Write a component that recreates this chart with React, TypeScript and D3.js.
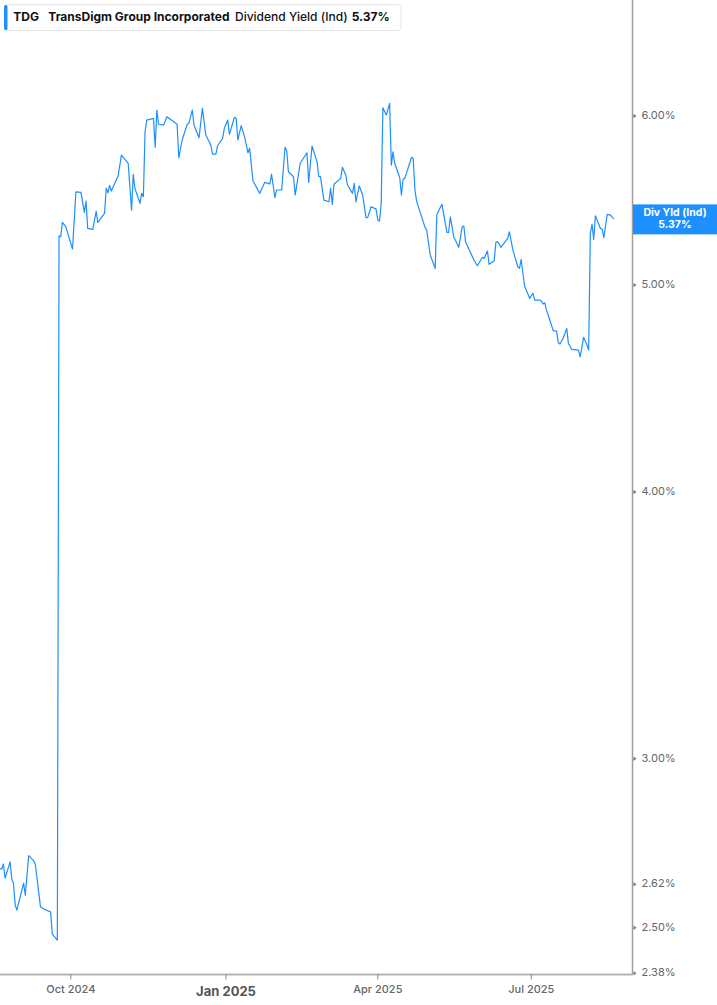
import * as d3 from 'd3';
import React from 'react';

// TDG dividend yield (indicated), one year of closes
const dates = [
  '2024-08-20', '2024-08-21', '2024-08-22', '2024-08-23', '2024-08-26', '2024-08-27', '2024-08-28',
  '2024-08-29', '2024-08-30', '2024-09-03', '2024-09-04', '2024-09-06', '2024-09-09', '2024-09-10',
  '2024-09-13', '2024-09-15', '2024-09-18', '2024-09-19', '2024-09-20', '2024-09-23', '2024-09-24',
  '2024-09-25', '2024-09-26', '2024-09-28', '2024-10-02', '2024-10-04', '2024-10-07', '2024-10-09',
  '2024-10-10', '2024-10-11', '2024-10-14', '2024-10-16', '2024-10-17', '2024-10-21', '2024-10-22',
  '2024-10-23', '2024-10-24', '2024-10-25', '2024-10-29', '2024-10-31', '2024-11-04', '2024-11-06',
  '2024-11-07', '2024-11-08', '2024-11-11', '2024-11-12', '2024-11-13', '2024-11-14', '2024-11-15',
  '2024-11-19', '2024-11-20', '2024-11-21', '2024-11-22', '2024-11-25', '2024-11-27', '2024-12-03',
  '2024-12-04', '2024-12-06', '2024-12-09', '2024-12-10', '2024-12-12', '2024-12-13', '2024-12-16',
  '2024-12-18', '2024-12-20', '2024-12-23', '2024-12-24', '2024-12-26', '2024-12-27', '2024-12-30',
  '2024-12-31', '2025-01-02', '2025-01-03', '2025-01-06', '2025-01-07', '2025-01-08', '2025-01-10',
  '2025-01-12', '2025-01-14', '2025-01-15', '2025-01-17', '2025-01-21', '2025-01-24', '2025-01-27',
  '2025-01-28', '2025-01-30', '2025-01-31', '2025-02-03', '2025-02-05', '2025-02-06', '2025-02-07',
  '2025-02-10', '2025-02-11', '2025-02-14', '2025-02-18', '2025-02-19', '2025-02-21', '2025-02-24',
  '2025-02-25', '2025-02-26', '2025-02-28', '2025-03-03', '2025-03-04', '2025-03-05', '2025-03-06',
  '2025-03-10', '2025-03-11', '2025-03-13', '2025-03-14', '2025-03-17', '2025-03-18', '2025-03-19',
  '2025-03-21', '2025-03-23', '2025-03-25', '2025-03-26', '2025-03-28', '2025-03-31', '2025-04-01',
  '2025-04-02', '2025-04-03', '2025-04-04', '2025-04-06', '2025-04-08', '2025-04-09', '2025-04-10',
  '2025-04-11', '2025-04-14', '2025-04-15', '2025-04-16', '2025-04-17', '2025-04-21', '2025-04-22',
  '2025-04-23', '2025-04-24', '2025-04-27', '2025-04-29', '2025-04-30', '2025-05-02', '2025-05-05',
  '2025-05-06', '2025-05-07', '2025-05-09', '2025-05-12', '2025-05-13', '2025-05-14', '2025-05-16',
  '2025-05-19', '2025-05-21', '2025-05-22', '2025-05-23', '2025-05-28', '2025-05-30', '2025-06-02',
  '2025-06-03', '2025-06-05', '2025-06-06', '2025-06-09', '2025-06-10', '2025-06-11', '2025-06-13',
  '2025-06-17', '2025-06-18', '2025-06-20', '2025-06-23', '2025-06-24', '2025-06-25', '2025-06-27',
  '2025-06-29', '2025-06-30', '2025-07-02', '2025-07-03', '2025-07-06', '2025-07-07', '2025-07-08',
  '2025-07-09', '2025-07-10', '2025-07-11', '2025-07-14', '2025-07-16', '2025-07-17', '2025-07-18',
  '2025-07-20', '2025-07-22', '2025-07-23', '2025-07-25', '2025-07-29', '2025-07-30', '2025-08-01',
  '2025-08-03', '2025-08-04', '2025-08-05', '2025-08-06', '2025-08-07', '2025-08-08', '2025-08-11',
  '2025-08-12', '2025-08-13', '2025-08-15', '2025-08-17', '2025-08-18', '2025-08-19',
];

const yields = [
  2.665, 2.663, 2.678, 2.637, 2.684, 2.634, 2.623,
  2.562, 2.548, 2.623, 2.589, 2.702, 2.687, 2.675,
  2.557, 2.551, 2.545, 2.543, 2.483, 2.467, 5.273,
  5.268, 5.35, 5.325, 5.198, 5.529, 5.526, 5.408,
  5.474, 5.315, 5.31, 5.414, 5.35, 5.402, 5.55,
  5.523, 5.568, 5.534, 5.624, 5.753, 5.702, 5.421,
  5.634, 5.55, 5.461, 5.52, 5.5, 5.899, 5.974,
  5.985, 5.801, 6.039, 5.947, 5.942, 5.995, 5.947,
  5.736, 5.847, 5.947, 5.953, 6.039, 5.942, 5.861,
  6.05, 5.878, 5.815, 5.759, 5.759, 5.811, 5.857,
  5.921, 5.974, 5.883, 5.992, 5.985, 5.847, 5.938,
  5.868, 5.767, 5.795, 5.594, 5.52, 5.586, 5.577,
  5.636, 5.494, 5.54, 5.54, 5.801, 5.778, 5.65,
  5.62, 5.51, 5.702, 5.767, 5.586, 5.809, 5.711,
  5.62, 5.62, 5.48, 5.47, 5.55, 5.455, 5.574,
  5.61, 5.677, 5.63, 5.57, 5.52, 5.58, 5.47,
  5.565, 5.51, 5.377, 5.377, 5.441, 5.427, 5.363,
  5.357, 5.461, 6.054, 6.006, 6.083, 5.691, 5.773,
  5.702, 5.614, 5.51, 5.606, 5.61, 5.739, 5.732,
  5.54, 5.474, 5.382, 5.321, 5.306, 5.168, 5.091,
  5.396, 5.416, 5.455, 5.293, 5.293, 5.382, 5.268,
  5.208, 5.325, 5.329, 5.239, 5.137, 5.105, 5.152,
  5.146, 5.187, 5.113, 5.133, 5.236, 5.24, 5.208,
  5.258, 5.296, 5.196, 5.1, 5.091, 5.141, 4.995,
  4.952, 4.929, 4.955, 4.92, 4.92, 4.914, 4.899,
  4.905, 4.867, 4.841, 4.76, 4.758, 4.698, 4.692,
  4.724, 4.772, 4.695, 4.665, 4.661, 4.628, 4.726,
  4.687, 4.661, 5.287, 5.34, 5.253, 5.388, 5.315,
  5.311, 5.262, 5.396, 5.392, 5.379, 5.37,
];

const yTickValues = [2.38, 2.5, 2.62, 3.0, 4.0, 5.0, 6.0];
const lastValue = 5.37;

const WIDTH = 717;
const HEIGHT = 1005;
const PLOT_RIGHT = 632.5;
const PLOT_BOTTOM = 974.5;
const BLUE = '#1e8fff';
const FONT = 'Inter, "Noto Sans", sans-serif';

export default function App() {
  const parseDate = d3.timeParse('%Y-%m-%d');
  const points = dates.map((d, i) => ({ date: parseDate(d) as Date, value: yields[i] }));

  const x = d3
    .scaleTime()
    .domain([new Date(2024, 7, 20), new Date(2025, 7, 30)])
    .range([0, PLOT_RIGHT]);
  const y = d3.scaleLog().domain([2.377, 6.8]).range([PLOT_BOTTOM, 0]);

  const line = d3
    .line<{ date: Date; value: number }>()
    .x(d => x(d.date))
    .y(d => y(d.value));

  const xTicks = x.ticks(d3.timeMonth.every(3) as d3.TimeInterval);
  const fmtPct = (v: number) => `${v.toFixed(2)}%`;

  return (
    <svg
      width={WIDTH}
      height={HEIGHT}
      style={{ position: 'absolute', left: 0, top: 0, background: '#fff' }}
      fontFamily={FONT}
    >
      {/* price line */}
      <path d={line(points) ?? ''} fill="none" stroke={BLUE} strokeWidth={1.2} strokeLinejoin="round" />

      {/* x axis */}
      <line x1={0} x2={PLOT_RIGHT} y1={PLOT_BOTTOM} y2={PLOT_BOTTOM} stroke="#b4b4b4" strokeWidth={2} />
      {xTicks.map(t => {
        const isYear = t.getMonth() === 0;
        return (
          <g key={t.toISOString()} transform={`translate(${x(t)},0)`}>
            <line y1={PLOT_BOTTOM} y2={PLOT_BOTTOM + 5} stroke="#888" />
            <text
              y={isYear ? 992 : 989.5}
              textAnchor="middle"
              dominantBaseline="middle"
              fontSize={isYear ? 13 : 11}
              fontWeight={isYear ? 700 : 500}
              fill={isYear ? '#555' : '#666'}
            >
              {d3.timeFormat('%b %Y')(t)}
            </text>
          </g>
        );
      })}

      {/* y axis on the right */}
      <line x1={PLOT_RIGHT} x2={PLOT_RIGHT} y1={0} y2={PLOT_BOTTOM} stroke="#9e9e9e" strokeWidth={1.5} />
      {yTickValues.map(v => (
        <g key={v} transform={`translate(${PLOT_RIGHT},${y(v)})`}>
          <path d="M1,-2.2L4,0L1,2.2Z" fill="#777" />
          <text x={9} dominantBaseline="middle" fontSize={11} fill="#666">
            {fmtPct(v)}
          </text>
        </g>
      ))}

      {/* last value badge */}
      <g transform={`translate(${PLOT_RIGHT + 0.5},${y(lastValue)})`}>
        <rect x={0} y={-14.5} width={WIDTH - PLOT_RIGHT} height={30} fill={BLUE} />
        <text x={42} y={-5.5} textAnchor="middle" dominantBaseline="middle" fontSize={10.5} fontWeight={700} fill="#fff">
          Div Yld (Ind)
        </text>
        <text x={42} y={6.5} textAnchor="middle" dominantBaseline="middle" fontSize={10.5} fontWeight={700} fill="#fff">
          {fmtPct(lastValue)}
        </text>
      </g>

      {/* legend */}
      <g>
        <rect x={4.5} y={4.5} width={396.5} height={26} rx={3} fill="#fff" stroke="#e6e6e6" />
        <rect x={4} y={5} width={3.5} height={25} rx={1.5} fill={BLUE} />
        <text y={20.5} fontSize={12} fill="#111">
          <tspan x={13.3} fontWeight={700}>TDG</tspan>
          <tspan x={48.3} fontWeight={700}>TransDigm Group Incorporated</tspan>
          <tspan x={235} fontWeight={500}>Dividend Yield (Ind)</tspan>
          <tspan x={351.7} fontWeight={700}>{fmtPct(lastValue)}</tspan>
        </text>
      </g>
    </svg>
  );
}
